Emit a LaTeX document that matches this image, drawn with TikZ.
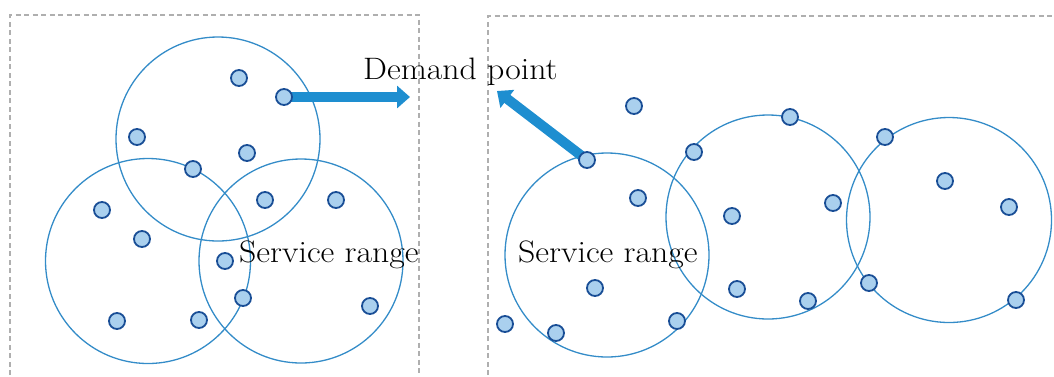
\documentclass[tikz,border=0pt]{standalone}
\usetikzlibrary{arrows.meta}
\definecolor{ringblue}{RGB}{52,140,200}
\definecolor{dotfill}{RGB}{170,208,238}
\definecolor{dotline}{RGB}{25,78,150}
\definecolor{arrowblue}{RGB}{30,142,208}
\definecolor{boxgray}{RGB}{175,175,175}
\begin{document}
\begin{tikzpicture}[x=1pt,y=-1pt,
  ring/.style={draw=ringblue,line width=1.3pt},
  dpt/.style={circle,draw=dotline,fill=dotfill,line width=1.8pt,minimum size=16pt,inner sep=0pt},
  panel/.style={draw=boxgray,line width=1.1pt,dash pattern=on 5pt off 3.5pt},
  bigarrow/.style={draw=arrowblue,line width=10pt,-{Triangle[width=22pt,length=13pt]}},
  lbl/.style={anchor=base west,inner sep=0pt,xscale=1.09,font=\fontsize{31}{36}\selectfont}]
\useasboundingbox (0,0) rectangle (1054,376);
% panels
\draw[panel] (10,375) -- (10,15) -- (419,15) -- (419,375);
\draw[panel] (488,375) -- (488,16) -- (1070,16);
% service ranges
\node[ring,circle,minimum size=204pt] (c1) at (218,139) {};
\node[ring,circle,minimum size=205pt] (c2) at (148,261) {};
\node[ring,circle,minimum size=204pt] (c3) at (301,261) {};
\node[ring,circle,minimum size=204pt] (c4) at (607,255) {};
\node[ring,circle,minimum size=204pt] (c5) at (768,217) {};
\node[ring,circle,minimum size=205pt] (c6) at (949,220) {};
% arrow targets
\coordinate (t1) at (410,97);
\coordinate (t2) at (497,91);
\coordinate (s1) at (284,97);
\coordinate (s2) at (587,160);
\draw[bigarrow] (s1) -- (t1);
\draw[bigarrow] (s2) -- (t2);
% demand points, left
\foreach \n/\x/\y in {a1/239/78,a2/284/97,a3/137/137,a4/247/153,a5/193/169,a6/102/210,a7/265/200,a8/336/200,a9/142/239,a10/225/261,a11/243/298,a12/117/321,a13/199/320,a14/370/306}
  \node[dpt] (\n) at (\x,\y) {};
% demand points, right
\foreach \n/\x/\y in {b1/634/106,b2/790/117,b3/885/137,b4/694/152,b5/587/160,b6/945/181,b7/638/198,b8/833/203,b9/1009/207,b10/732/216,b11/595/288,b12/737/289,b13/808/301,b14/869/283,b15/1016/300,b16/505/324,b17/556/333,b18/677/321}
  \node[dpt] (\n) at (\x,\y) {};
% labels
\node[lbl] (dp) at (363,79) {Demand point};
\node[lbl] (sr1) at (239,262) {Service range};
\node[lbl] (sr2) at (518,262) {Service range};
\end{tikzpicture}
\end{document}
